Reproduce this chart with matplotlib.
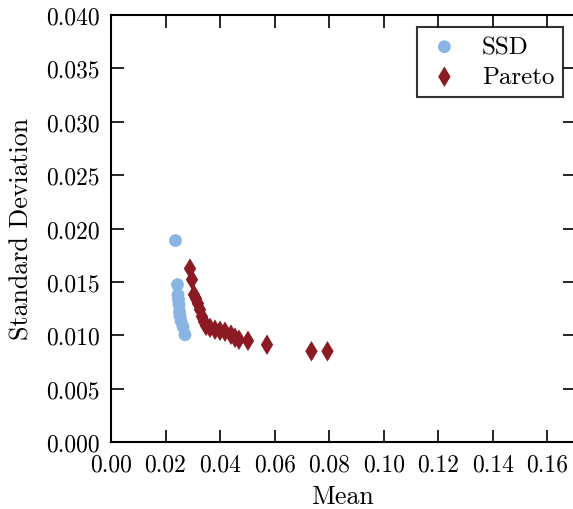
import matplotlib
matplotlib.use("Agg")
import matplotlib.pyplot as plt

ssd_mean = [0.02365, 0.02438, 0.02457, 0.02475, 0.02493, 0.02511, 0.0253, 0.02566, 0.0264, 0.02713]
ssd_std = [0.01887, 0.01474, 0.01380, 0.01333, 0.01286, 0.01221, 0.01183, 0.01136, 0.01080, 0.01005]

pareto_mean = [0.02896, 0.02970, 0.03043, 0.03116, 0.03190, 0.03263, 0.03336, 0.03410, 0.03483,
               0.03630, 0.03813, 0.03996, 0.04180, 0.04400, 0.04546, 0.04693, 0.05023, 0.05720,
               0.07351, 0.07938]
pareto_std = [0.01624, 0.01521, 0.01380, 0.01343, 0.01296, 0.01239, 0.01174, 0.01127, 0.01089,
              0.01070, 0.01052, 0.01042, 0.01033, 0.01005, 0.00977, 0.00958, 0.00948, 0.00911,
              0.00850, 0.00850]

xticks = [0.00, 0.02, 0.04, 0.06, 0.08, 0.10, 0.12, 0.14, 0.16]
yticks = [0.000, 0.005, 0.010, 0.015, 0.020, 0.025, 0.030, 0.035, 0.040]

plt.rcParams['font.family'] = 'serif'
plt.rcParams['font.serif'] = ['cmr10']
plt.rcParams['mathtext.fontset'] = 'cm'
plt.rcParams['axes.formatter.use_mathtext'] = True
plt.rcParams['axes.unicode_minus'] = False

fig = plt.figure(figsize=(5.73, 5.10), dpi=100)
W, H = 573, 510
left, right, top, bottom = 111, 574.6, 16, 443
ax = fig.add_axes([left / W, (H - bottom) / H, (right - left) / W, (bottom - top) / H])

ax.scatter(ssd_mean, ssd_std, s=85, marker='o', color='#8ab4e3', edgecolors='none', label='SSD', zorder=3)
ax.scatter(pareto_mean, pareto_std, s=110, marker='d', color='#8b1a24', edgecolors='none', label='Pareto', zorder=3)

ax.set_xlim(0, 0.17)
ax.set_ylim(0, 0.04)
ax.set_xticks(xticks)
ax.set_xticklabels([f"{v:.2f}" for v in xticks])
ax.set_yticks(yticks)
ax.set_yticklabels([f"{v:.3f}" for v in yticks])
ax.tick_params(direction='in', length=9, width=1.2, top=True, right=True, labelsize=17, pad=8)
for sp in ax.spines.values():
    sp.set_linewidth(1.5)

ax.set_xlabel('Mean', fontsize=18.7)
ax.set_ylabel('Standard Deviation', fontsize=18.7)
ax.xaxis.set_label_coords((342 - left) / (right - left), -(497 - bottom) / (bottom - top), transform=ax.transAxes)
ax.xaxis.label.set_va('center')
ax.yaxis.set_label_coords(-(left - 22) / (right - left), (bottom - 229) / (bottom - top), transform=ax.transAxes)
ax.yaxis.label.set_va('center')

leg = ax.legend(loc='upper right', bbox_to_anchor=(563 / W, (H - 28) / H), bbox_transform=fig.transFigure,
                fancybox=False, frameon=True, scatterpoints=1, fontsize=18, borderpad=0.35,
                labelspacing=0.3, handletextpad=0.75, handlelength=1.5, borderaxespad=0)
leg.get_frame().set_edgecolor('black')
leg.get_frame().set_linewidth(1.5)

fig.savefig('out.png', dpi=100)
